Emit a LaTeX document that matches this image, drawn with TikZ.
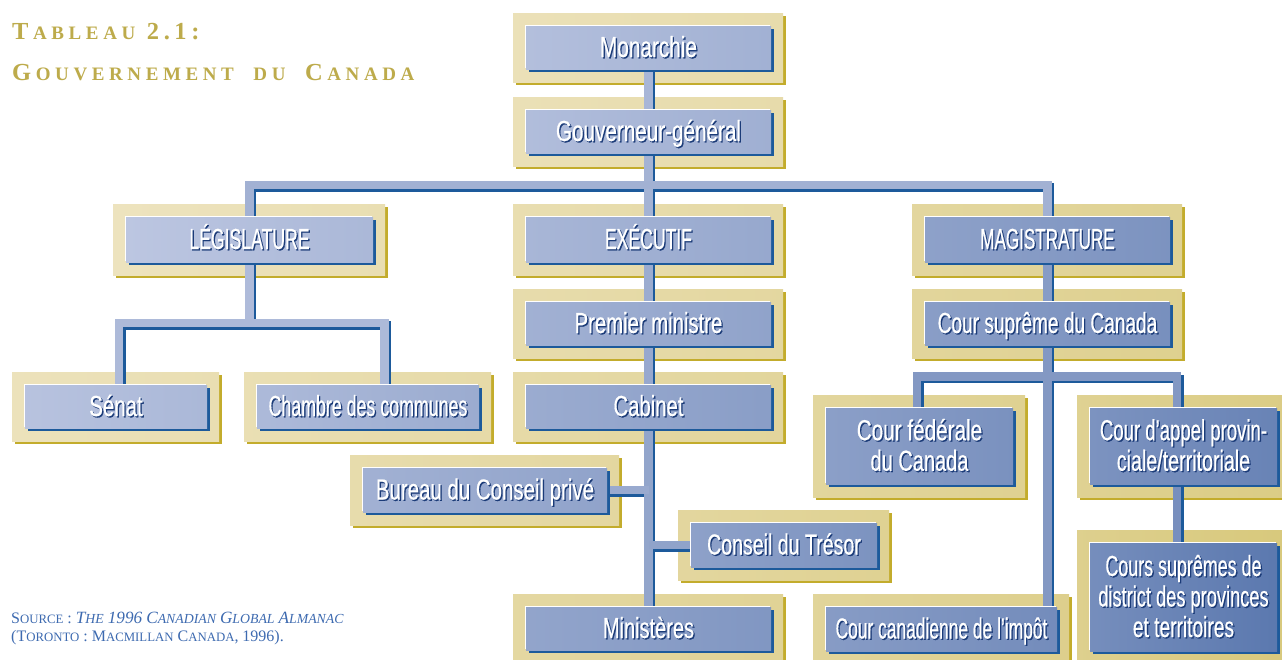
\documentclass[tikz,border=0pt]{standalone}
\usepackage{fontspec}
\setmainfont{Liberation Serif}
\pgfdeclarelayer{back}
\pgfdeclarelayer{mid}
\pgfsetlayers{back,mid,main}

\definecolor{BL}{HTML}{BCC6E1}
\definecolor{BD}{HTML}{4E6EA8}
\definecolor{GL}{HTML}{EDE3BE}
\definecolor{GD}{HTML}{D5C573}
\definecolor{gshadow}{HTML}{C3AC2C}
\definecolor{bshadow}{HTML}{1D5A9B}
\definecolor{tshadow}{HTML}{1B3B78}
\definecolor{gold}{HTML}{BDAB4B}
\definecolor{srcblue}{HTML}{3D6AB0}

\newcommand\cnd[1]{\fontspec[FakeStretch=#1,FakeBold=0.5]{Liberation Sans}}
\newcommand\sh[1]{\leavevmode\smash{\rlap{\kern1.3pt\raisebox{-1.3pt}{\color{tshadow}#1}}#1}\rule[-2pt]{0pt}{23pt}}

\newdimen\tsp \tsp=4.6pt
\def\so#1{\soA#1\relax}
\def\soA#1{\ifx#1\relax\else#1\kern\tsp\expandafter\soA\fi}
\newcommand\tb[1]{{\fontsize{24.5}{26}\selectfont #1}\kern\tsp}
\newcommand\tsm[1]{{\fontsize{19}{21}\selectfont\so{#1}}}
\newcommand\sB[1]{{\fontsize{16}{18}\selectfont #1}}
\newcommand\sS[1]{{\fontsize{12.8}{14}\selectfont #1}}
\newcommand\iB[1]{{\fontsize{17.2}{18}\selectfont #1}}
\newcommand\iS[1]{{\fontsize{13.8}{14}\selectfont #1}}

\tikzset{
  ibox/.style={rectangle, inner sep=0pt, outer sep=0pt, text=white, align=center,
    font=\fontsize{29}{30.5}\selectfont,
    preaction={fill=bshadow, transform canvas={shift={(3pt,-3pt)}}},
    preaction={fill=white, transform canvas={shift={(-1.3pt,1.3pt)}}}},
  obox/.style={rectangle, inner sep=0pt, outer sep=0pt,
    preaction={fill=gshadow, transform canvas={shift={(3pt,-3pt)}}}},
  conn/.style={line width=8.5pt},
  connS/.style={conn, draw=bshadow, transform canvas={shift={(2.5pt,-2.5pt)}}, cl/.style={}},
  connL/.style={conn, cl/.style={draw=BD!##1!BL}},
}

\newcommand\unit[8]{%
  \node[ibox, minimum width=#4pt, minimum height=#5pt, left color=BD!#6!BL, right color=BD!#7!BL] (#1) at (#2,#3) {#8};
  \begin{pgfonlayer}{back}
    \node[obox, minimum width=#4pt+25pt, minimum height=#5pt+26pt, left color=GD!#6!GL, right color=GD!#7!GL] (#1F) at (#2-0.5,#3) {};
  \end{pgfonlayer}}

\newcommand\conns[1]{%
  \draw[#1, cl=18] (mon) -- (gg);
  \draw[#1, cl=22] (gg) -- (exe);
  \draw[#1, cl=24] (leg) |- (hubR) -- (mag);
  \draw[#1, cl=30] (exe) -- (pm);
  \draw[#1, cl=34] (pm) -- (cab);
  \draw[#1, cl=38] (cab) -- (min);
  \draw[#1, cl=32] (bcp) -- (bcp -| cab);
  \draw[#1, cl=40] (ct) -- (ct -| cab);
  \draw[#1, cl=12] (leg) -- (legJ);
  \draw[#1, cl=14] (senT) |- (legJ) -| (chT);
  \draw[#1, cl=48] (mag) -- (cs);
  \draw[#1, cl=52] (cs) -- (cs |- cci.north);
  \draw[#1, cl=52] (cfT) |- (csJ) -| (caT);
  \draw[#1, cl=62] (caB) -- (csdT);
}

\begin{document}
\begin{tikzpicture}[x=1pt, y=-1pt]
\useasboundingbox (0,0) rectangle (1282,659);
\begin{pgfonlayer}{back}
  \fill[white] (0,0) rectangle (1282,659);
\end{pgfonlayer}

% boxes: name, cx, cy, w, h, t-left, t-right, text
\unit{mon}{648.5}{47.5}{245}{43}{8}{24}{\sh{\cnd{0.716}Monarchie}}
\unit{gg}{648.5}{131.5}{245}{43}{10}{26}{\sh{\cnd{0.713}Gouverneur-général}}
\unit{leg}{249.5}{239.5}{247}{45}{0}{16}{\sh{\cnd{0.608}LÉGISLATURE}}
\unit{exe}{648.5}{239.5}{245}{45}{18}{34}{\sh{\cnd{0.607}EXÉCUTIF}}
\unit{mag}{1047.5}{239.5}{245}{45}{42}{58}{\sh{\cnd{0.589}MAGISTRATURE}}
\unit{pm}{648.5}{323.5}{245}{43}{24}{40}{\sh{\cnd{0.70}Premier ministre}}
\unit{cs}{1047.5}{323.5}{245}{43}{46}{62}{\sh{\cnd{0.658}Cour suprême du Canada}}
\unit{sen}{116}{406.5}{182}{43}{4}{16}{\sh{\cnd{0.705}Sénat}}
\unit{ch}{368}{406.5}{222}{43}{14}{30}{\sh{\cnd{0.614}Chambre des communes}}
\unit{cab}{648.5}{406.5}{245}{43}{30}{46}{\sh{\cnd{0.70}Cabinet}}
\unit{cf}{919.5}{446}{187}{76}{44}{60}{\sh{\cnd{0.714}Cour fédérale}\\\sh{\cnd{0.69}du Canada}}
\unit{ca}{1183.5}{446}{187}{76}{58}{76}{\sh{\cnd{0.64}Cour d’appel provin-}\\\sh{\cnd{0.678}ciale/territoriale}}
\unit{bcp}{485}{490}{244}{44}{24}{40}{\sh{\cnd{0.705}Bureau du Conseil privé}}
\unit{ct}{784}{545}{186}{44}{42}{58}{\sh{\cnd{0.675}Conseil du Trésor}}
\unit{min}{648.5}{628.5}{245}{43}{38}{54}{\sh{\cnd{0.69}Ministères}}
\unit{cci}{941.5}{629}{231}{44}{48}{66}{\sh{\cnd{0.60}Cour canadienne de l’impôt}}
\unit{csd}{1183.5}{597}{187}{108}{64}{88}{\sh{\cnd{0.617}Cours suprêmes de}\\\sh{\cnd{0.629}district des provinces}\\\sh{\cnd{0.661}et territoires}}

% junction points
\coordinate (hubR) at (1047.5,185);
\coordinate (legJ) at (249.5,323);
\coordinate (senT) at (119,385);
\coordinate (chT) at (384.5,385);
\coordinate (csJ) at (1047.5,376.5);
\coordinate (cfT) at (917,408);
\coordinate (caT) at (1177,408);
\coordinate (caB) at (1177,484);
\coordinate (csdT) at (1177,543);

\begin{pgfonlayer}{mid}
  \conns{connS}
  \conns{connL}
\end{pgfonlayer}

% title
\node[anchor=base west, text=gold, font=\bfseries, inner sep=0pt] (t1) at (12,39)
  {\tb{T}\tsm{ABLEAU}\hspace{7pt}\tb{2}\tb{.}\tb{1}\tb{:}};
\node[anchor=base west, text=gold, font=\bfseries, inner sep=0pt] (t2) at (12,80)
  {\tb{G}\tsm{OUVERNEMENT}\hspace{15pt}\tsm{DU}\hspace{15pt}\tb{C}\tsm{ANADA}};

% source
\node[anchor=base west, text=srcblue, inner sep=0pt, font=\fontsize{16}{18}\selectfont] (s1) at (11,623)
  {\sB{S}\sS{OURCE} : \textit{\iB{T}\iS{HE} \iB{1996} \iB{C}\iS{ANADIAN} \iB{G}\iS{LOBAL} \iB{A}\iS{LMANAC}}};
\node[anchor=base west, text=srcblue, inner sep=0pt, font=\fontsize{16}{18}\selectfont] (s2) at (11,641.7)
  {(\sB{T}\sS{ORONTO} : \sB{M}\sS{ACMILLAN} \sB{C}\sS{ANADA}, 1996).};
\end{tikzpicture}
\end{document}
